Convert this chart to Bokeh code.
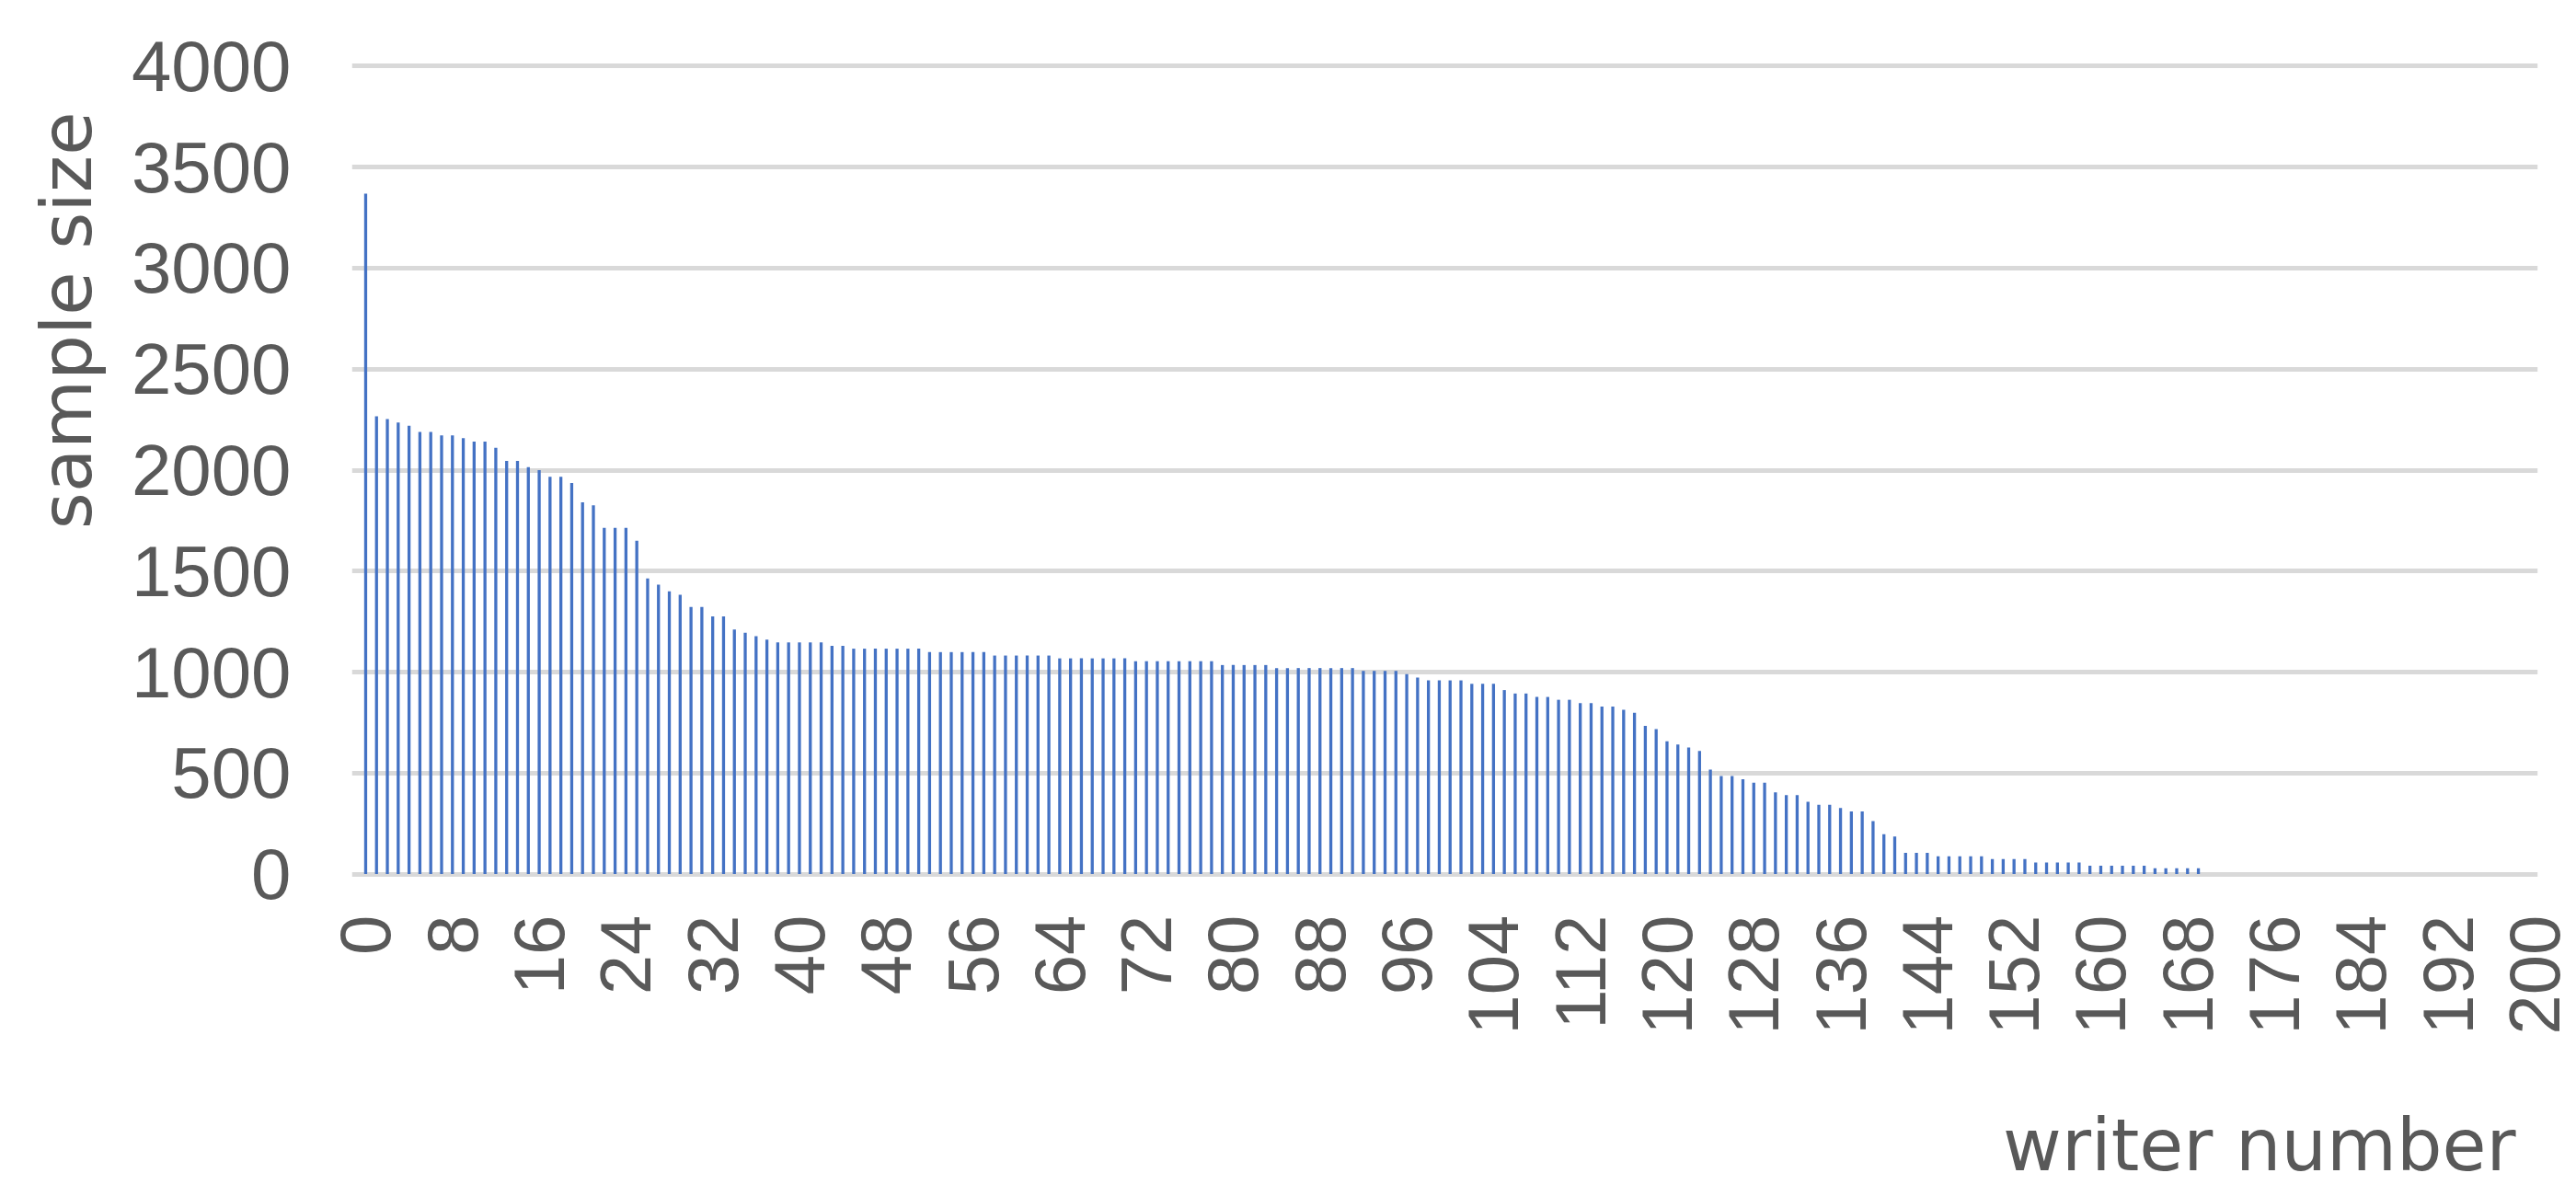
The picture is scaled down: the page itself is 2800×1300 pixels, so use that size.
import math
from bokeh.plotting import figure
from bokeh.models import Range1d, FixedTicker, Title, ColumnDataSource
from bokeh.embed import file_html
from bokeh.resources import INLINE

writer = list(range(170))
sample_size = [
    3369, 2267, 2253, 2236, 2220, 2189, 2189, 2172, 2172, 2158,
    2141, 2141, 2110, 2046, 2046, 2015, 2000, 1967, 1967, 1936,
    1841, 1826, 1714, 1714, 1714, 1650, 1464, 1433, 1400, 1383,
    1323, 1323, 1276, 1276, 1211, 1195, 1178, 1161, 1147, 1147,
    1147, 1147, 1147, 1130, 1130, 1116, 1116, 1116, 1116, 1116,
    1116, 1116, 1099, 1099, 1099, 1099, 1099, 1099, 1082, 1082,
    1082, 1082, 1082, 1082, 1068, 1068, 1068, 1068, 1068, 1068,
    1068, 1054, 1054, 1054, 1054, 1054, 1054, 1054, 1054, 1035,
    1035, 1035, 1035, 1035, 1020, 1020, 1020, 1020, 1020, 1020,
    1020, 1020, 1006, 1006, 1006, 1006, 990, 973, 959, 959,
    959, 959, 942, 942, 942, 911, 894, 894, 877, 877,
    863, 863, 846, 846, 830, 830, 813, 799, 734, 718,
    658, 641, 627, 610, 517, 486, 486, 470, 453, 453,
    405, 391, 391, 358, 343, 343, 327, 310, 310, 262,
    198, 186, 105, 105, 105, 88, 88, 88, 88, 88,
    74, 74, 74, 74, 57, 57, 57, 57, 57, 41,
    41, 41, 41, 41, 41, 29, 29, 29, 29, 29,
]
x_ticks = list(range(0, 201, 8))
y_ticks = list(range(0, 4001, 500))

TICK_FONT = "Liberation Sans"
TITLE_FONT = "DejaVu Sans"
GREY = "#595959"

src = ColumnDataSource(data=dict(writer=writer, sample_size=sample_size))

p = figure(
    frame_width=2376, frame_height=887,
    min_border_left=382, min_border_right=42,
    min_border_top=67, min_border_bottom=330,
    x_range=Range1d(-1.27, 200.3), y_range=Range1d(-20, 4020),
    output_backend="svg", toolbar_location=None,
)
p.outline_line_color = None
p.background_fill_color = "white"
p.border_fill_color = "white"

p.vbar(x="writer", top="sample_size", bottom=0, width=0.28,
       source=src, fill_color="#4472C4", line_color=None)

p.xgrid.grid_line_color = None
p.ygrid.grid_line_color = "#D9D9D9"
p.ygrid.grid_line_width = 5
p.ygrid.ticker = FixedTicker(ticks=y_ticks)

p.xaxis.ticker = FixedTicker(ticks=x_ticks)
p.yaxis.ticker = FixedTicker(ticks=y_ticks)
for ax in (p.xaxis, p.yaxis):
    ax.axis_line_color = None
    ax.major_tick_line_color = None
    ax.minor_tick_line_color = None
    ax.major_tick_out = 0
    ax.major_tick_in = 0
    ax.minor_tick_out = 0
    ax.major_label_text_font = TICK_FONT
    ax.major_label_text_font_size = "78px"
    ax.major_label_text_color = GREY
p.xaxis.major_label_orientation = math.pi / 2
p.xaxis.major_label_standoff = 40
p.yaxis.major_label_standoff = 66

p.add_layout(Title(text="writer number", align="right", offset=24, standoff=140,
                   text_font=TITLE_FONT, text_font_size="78px",
                   text_font_style="normal", text_color=GREY), "below")
p.add_layout(Title(text="sample size", align="right", offset=54, standoff=45,
                   text_font=TITLE_FONT, text_font_size="77px",
                   text_font_style="normal", text_color=GREY), "left")

open("out.html", "w").write(file_html(p, INLINE))
